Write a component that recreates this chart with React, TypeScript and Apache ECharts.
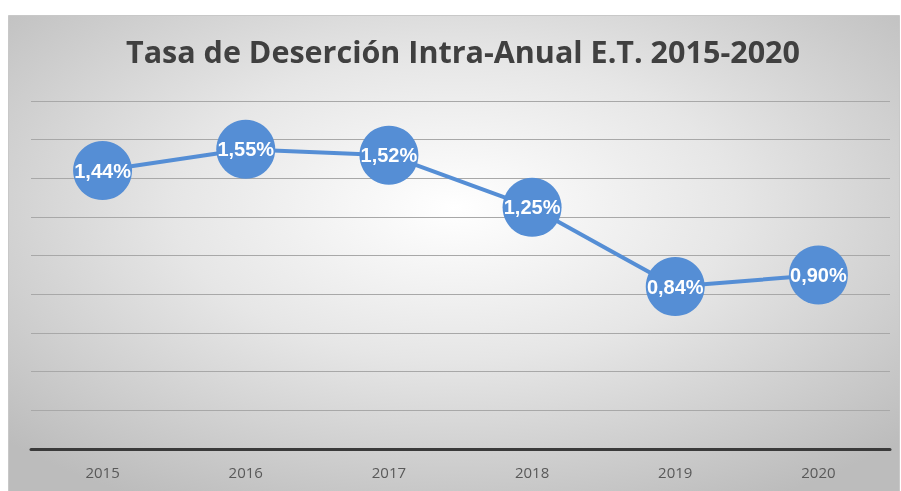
import React, { useEffect, useRef } from "react";
import * as echarts from "echarts";

const TITLE = "Tasa de Deserción Intra-Anual E.T. 2015-2020";
const YEARS = ["2015", "2016", "2017", "2018", "2019", "2020"];
const RATES = [1.44, 1.55, 1.52, 1.25, 0.84, 0.9];

export default function App() {
  const ref = useRef<HTMLDivElement>(null);
  useEffect(() => {
    document.body.style.margin = "0";
    const chart = echarts.init(ref.current!, null, { renderer: "svg" });
    chart.setOption({
      animation: false,
      graphic: [
        {
          type: "rect",
          z: -10,
          silent: true,
          shape: { x: 8.5, y: 15.5, width: 891, height: 480 },
          style: {
            fill: new echarts.graphic.RadialGradient(0.5, 0.4, 0.7, [
              { offset: 0, color: "#ffffff" },
              { offset: 0.45, color: "#e6e6e6" },
              { offset: 1, color: "#bcbcbc" },
            ]),
            stroke: "#c8c8c8",
            lineWidth: 1,
          },
        },
      ],
      title: {
        text: TITLE,
        left: 121,
        top: 30,
        textStyle: {
          fontFamily: "Open Sans",
          fontWeight: "bold",
          fontSize: 30.5,
          color: "#404040",
        },
      },
      grid: { left: 31, right: 11, top: 101, bottom: 42 },
      xAxis: {
        type: "category",
        data: YEARS,
        boundaryGap: true,
        axisLine: { lineStyle: { color: "#3a3a3a", width: 3 } },
        axisTick: { show: false },
        axisLabel: {
          color: "#595959",
          fontFamily: "Open Sans",
          fontSize: 15,
          margin: 15,
        },
      },
      yAxis: {
        type: "value",
        min: 0,
        max: 1.8,
        interval: 0.2,
        axisLabel: { show: false },
        axisLine: { show: false },
        axisTick: { show: false },
        splitLine: { lineStyle: { color: "#a8a8a8", width: 1 } },
      },
      series: [
        {
          type: "line",
          data: RATES,
          symbol: "circle",
          symbolSize: 59,
          lineStyle: { color: "#558ed5", width: 4 },
          itemStyle: { color: "#558ed5" },
          label: {
            show: true,
            position: "inside",
            formatter: (p: any) => p.value.toFixed(2).replace(".", ",") + "%",
            color: "#ffffff",
            fontFamily: "Liberation Sans",
            fontWeight: "bold",
            fontSize: 20,
          },
        },
      ],
    });
    return () => chart.dispose();
  }, []);
  return (
    <div
      ref={ref}
      style={{ position: "fixed", left: 0, top: 0, width: 901, height: 491 }}
    />
  );
}
